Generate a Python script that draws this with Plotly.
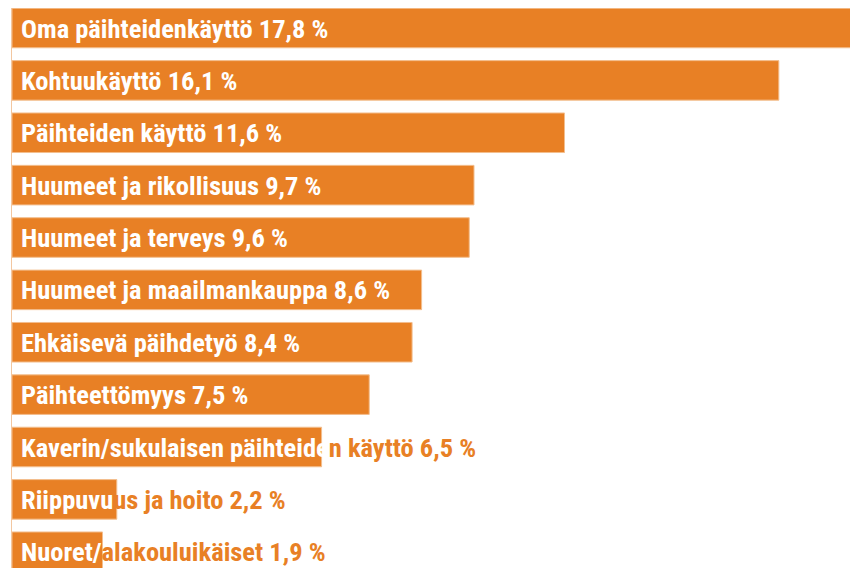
import plotly.graph_objects as go

categories = [
    "Oma päihteidenkäyttö",
    "Kohtuukäyttö",
    "Päihteiden käyttö",
    "Huumeet ja rikollisuus",
    "Huumeet ja terveys",
    "Huumeet ja maailmankauppa",
    "Ehkäisevä päihdetyö",
    "Päihteettömyys",
    "Kaverin/sukulaisen päihteiden käyttö",
    "Riippuvuus ja hoito",
    "Nuoret/alakouluikäiset",
]
values = [17.8, 16.1, 11.6, 9.7, 9.6, 8.6, 8.4, 7.5, 6.5, 2.2, 1.9]
# number of label characters that sit on the bar (white); rest shown in orange
white_chars = [None, None, None, None, None, None, None, None, 28, 8, 7]

ORANGE = "#E88025"

fig = go.Figure()
fig.add_trace(go.Bar(
    y=categories, x=values, orientation="h",
    marker=dict(color=ORANGE, line=dict(color="#F3BE8E", width=1)),
    width=0.755, hoverinfo="skip", showlegend=False,
))

annotations = []
for cat, val, wc in zip(categories, values, white_chars):
    label = f"{cat} {val:.1f}".replace(".", ",") + " %"
    if wc is not None:
        label = label[:wc] + f"<span style='color:{ORANGE}'>" + label[wc:] + "</span>"
    annotations.append(dict(
        x=0, y=cat, xref="x", yref="y", text=label, showarrow=False,
        xanchor="left", yanchor="middle", xshift=7,
        font=dict(family="Roboto Condensed, Liberation Sans Narrow, DejaVu Sans Condensed, sans-serif",
                  size=26.5, color="white", weight="bold"),
    ))

fig.update_layout(
    width=858, height=568,
    margin=dict(l=4, r=0, t=0, b=0),
    plot_bgcolor="white", paper_bgcolor="white",
    annotations=annotations,
    xaxis=dict(range=[0, 17.93], visible=False, fixedrange=True),
    yaxis=dict(type="category", range=[10.463, -0.382], showticklabels=False,
               showgrid=False, zeroline=False, showline=True, linecolor="#F3C7A0",
               linewidth=1, ticks=""),
)

fig.write_html("out.html")
